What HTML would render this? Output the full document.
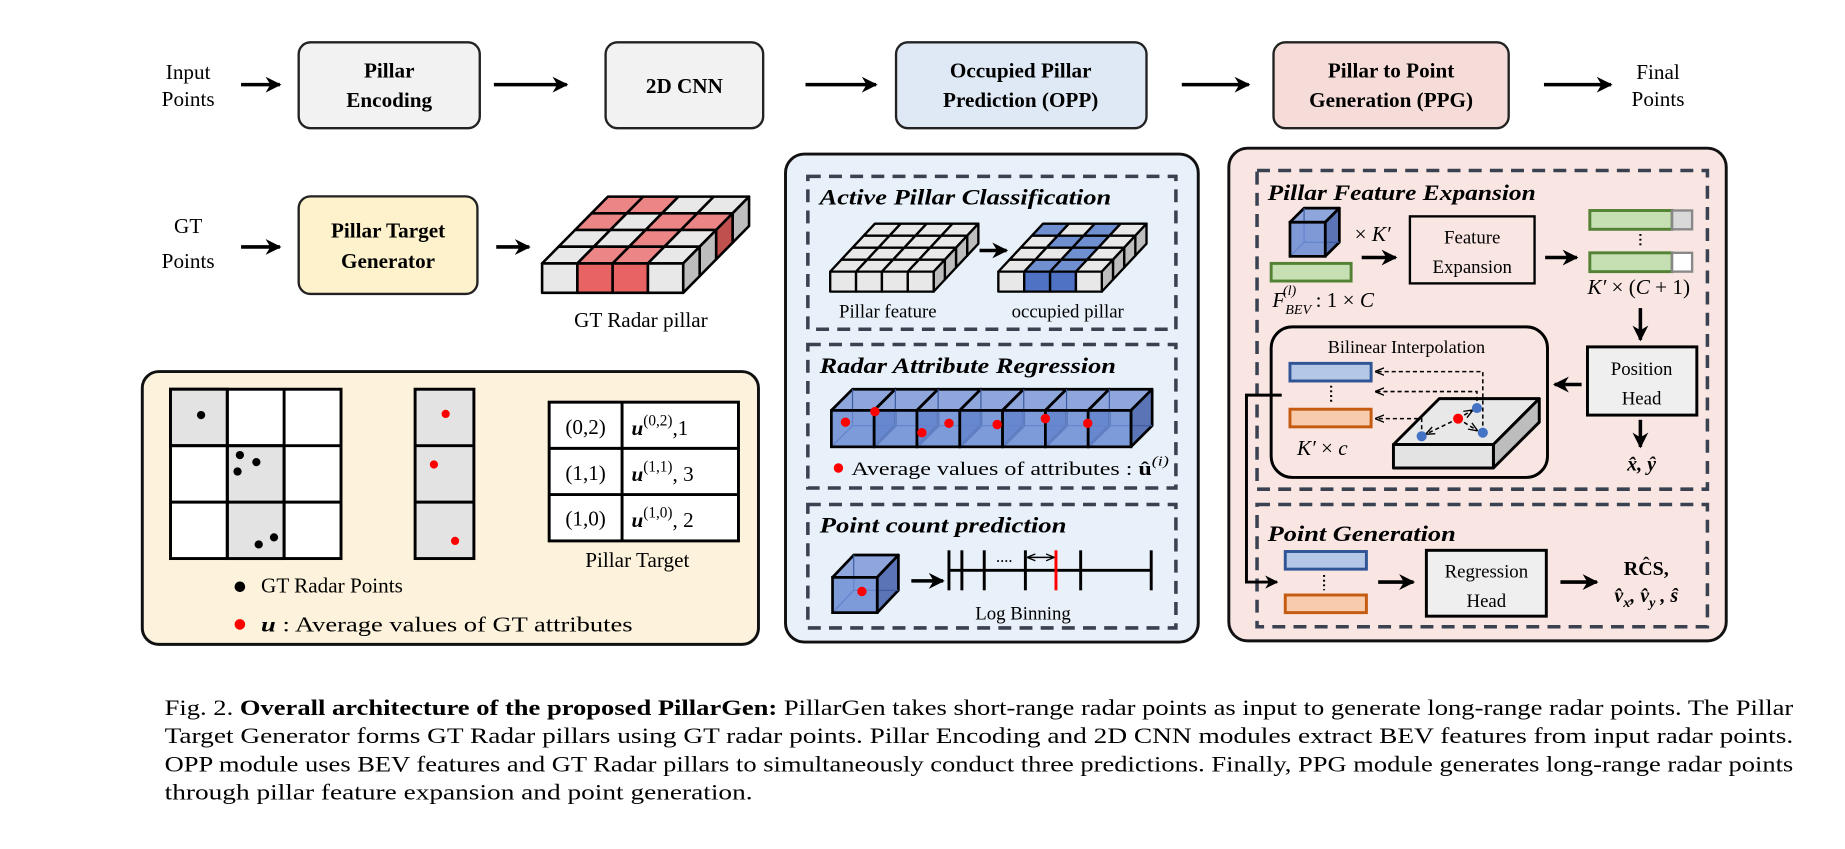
<!DOCTYPE html>
<html><head><meta charset="utf-8"><style>
html,body{margin:0;padding:0;background:#fff;}
svg{display:block;}
text{font-family:"Liberation Serif","Times New Roman",Times,serif;fill:#000;}
.b{font-weight:bold;}
.bi{font-weight:bold;font-style:italic;}
.i{font-style:italic;}
</style></head><body>
<svg id="s" width="1845" height="849" viewBox="0 0 1569 722" xmlns="http://www.w3.org/2000/svg">
<defs>
<marker id="ah" viewBox="0 0 10 10" refX="9" refY="5" markerWidth="4.5" markerHeight="4.5" orient="auto-start-reverse"><path d="M0,0 L10,5 L0,10 L3,5z" fill="#000"/></marker>
<marker id="as" viewBox="0 0 10 10" refX="9" refY="5" markerWidth="6" markerHeight="6" orient="auto-start-reverse"><path d="M0,1 L10,5 L0,9" fill="none" stroke="#000" stroke-width="1.5"/></marker>
</defs>
<g stroke="#000" stroke-width="3" fill="none" marker-end="url(#ah)">
<line x1="205" y1="72" x2="238" y2="72"/>
<line x1="420" y1="72" x2="482" y2="72"/>
<line x1="685" y1="72" x2="745" y2="72"/>
<line x1="1005" y1="72" x2="1062" y2="72"/>
<line x1="1313" y1="72" x2="1370" y2="72"/>
<line x1="205" y1="210" x2="238" y2="210"/>
<line x1="422" y1="210" x2="450" y2="210"/>
<line x1="308" y1="403" x2="340" y2="403"/>
<line x1="419" y1="403" x2="452" y2="403"/>
</g>
<g stroke="#222" stroke-width="2">
<rect x="254" y="36" width="154" height="73" rx="10" fill="#f2f2f2"/>
<rect x="515" y="36" width="134" height="73" rx="10" fill="#f2f2f2"/>
<rect x="762" y="36" width="213" height="73" rx="10" fill="#dfe9f5"/>
<rect x="1083" y="36" width="200" height="73" rx="10" fill="#f6dcd8"/>
<rect x="254" y="167" width="152" height="83" rx="10" fill="#fdf2cc"/>
</g>
<g font-size="18" text-anchor="middle">
<text x="160" y="67">Input</text><text x="160" y="90">Points</text>
<text x="331" y="66" class="b">Pillar</text><text x="331" y="91" class="b">Encoding</text>
<text x="582" y="79" class="b">2D CNN</text>
<text x="868" y="66" class="b">Occupied Pillar</text><text x="868" y="91" class="b">Prediction (OPP)</text>
<text x="1183" y="66" class="b">Pillar to Point</text><text x="1183" y="91" class="b">Generation (PPG)</text>
<text x="1410" y="67">Final</text><text x="1410" y="90">Points</text>
<text x="160" y="198">GT</text><text x="160" y="228">Points</text>
<text x="330" y="202" class="b">Pillar Target</text><text x="330" y="228" class="b">Generator</text>
<text x="545" y="278">GT Radar pillar</text>
</g>
<g id="gt"></g>
<rect x="121" y="316" width="524" height="232" rx="14" fill="#fdf3dc" stroke="#111" stroke-width="2.5"/>
<g stroke="#000" stroke-width="2.5">
<rect x="145" y="331" width="145" height="144" fill="#fff"/>
<rect x="145" y="331" width="48.3" height="48" fill="#e3e3e3"/>
<rect x="193.3" y="379" width="48.3" height="96" fill="#e3e3e3"/>
<line x1="193.3" y1="331" x2="193.3" y2="475"/><line x1="241.6" y1="331" x2="241.6" y2="475"/>
<line x1="145" y1="379" x2="290" y2="379"/><line x1="145" y1="427" x2="290" y2="427"/>
<rect x="353" y="331" width="50" height="144" fill="#e3e3e3"/>
<line x1="353" y1="379" x2="403" y2="379"/><line x1="353" y1="427" x2="403" y2="427"/>
<rect x="467" y="342" width="161" height="118" fill="#fff"/>
<line x1="529" y1="342" x2="529" y2="460"/>
<line x1="467" y1="381.3" x2="628" y2="381.3"/><line x1="467" y1="420.6" x2="628" y2="420.6"/>
</g>
<g fill="#000"><circle cx="171" cy="353" r="3.5"/><circle cx="204" cy="387" r="3.5"/><circle cx="218" cy="393" r="3.5"/><circle cx="202" cy="401" r="3.5"/><circle cx="233" cy="457" r="3.5"/><circle cx="220" cy="463" r="3.5"/><circle cx="204" cy="499" r="4.5"/></g>
<g fill="#f00"><circle cx="379" cy="352" r="3.5"/><circle cx="369" cy="395" r="3.5"/><circle cx="387" cy="460" r="3.5"/><circle cx="204" cy="531" r="4.5"/></g>
<g font-size="18">
<text x="498" y="369" text-anchor="middle">(0,2)</text><text x="498" y="408" text-anchor="middle">(1,1)</text><text x="498" y="447" text-anchor="middle">(1,0)</text>
<text x="537" y="370"><tspan class="bi">u</tspan><tspan font-size="13" dy="-8">(0,2)</tspan><tspan dy="8">,1</tspan></text>
<text x="537" y="409"><tspan class="bi">u</tspan><tspan font-size="13" dy="-8">(1,1)</tspan><tspan dy="8">, 3</tspan></text>
<text x="537" y="448"><tspan class="bi">u</tspan><tspan font-size="13" dy="-8">(1,0)</tspan><tspan dy="8">, 2</tspan></text>
<text x="542" y="482" text-anchor="middle">Pillar Target</text>
<text x="222" y="504">GT Radar Points</text>
<text x="222" y="537" textLength="316" lengthAdjust="spacingAndGlyphs"><tspan class="bi">u</tspan> : Average values of GT attributes</text>
</g>
<rect x="668" y="131" width="351" height="415" rx="16" fill="#e8f0f9" stroke="#111" stroke-width="2.5"/>
<g fill="none" stroke="#3a4252" stroke-width="3" stroke-dasharray="11,7">
<rect x="687" y="150" width="313" height="130"/>
<rect x="687" y="293" width="313" height="122"/>
<rect x="687" y="429" width="313" height="105"/>
</g>
<g font-size="19">
<text x="697" y="174" class="bi" textLength="248" lengthAdjust="spacingAndGlyphs">Active Pillar Classification</text>
<text x="697" y="317" class="bi" textLength="252" lengthAdjust="spacingAndGlyphs">Radar Attribute Regression</text>
<text x="697" y="453" class="bi" textLength="210" lengthAdjust="spacingAndGlyphs">Point count prediction</text>
</g>
<g id="apc"></g>
<line x1="833" y1="213" x2="856" y2="213" stroke="#000" stroke-width="3" marker-end="url(#ah)"/>
<g font-size="16" text-anchor="middle"><text x="755" y="270">Pillar feature</text><text x="908" y="270">occupied pillar</text>
<text x="870" y="527">Log Binning</text></g>
<g id="rar"></g>
<circle cx="713" cy="398" r="4" fill="#f00"/>
<text x="724" y="404" font-size="16" textLength="270" lengthAdjust="spacingAndGlyphs">Average values of attributes : <tspan class="b">û</tspan><tspan font-size="12" dy="-8" class="i">(i)</tspan></text>
<g id="pcp"></g>
<line x1="775" y1="494" x2="802" y2="494" stroke="#000" stroke-width="3" marker-end="url(#ah)"/>
<g stroke="#000" stroke-width="2.5">
<line x1="807" y1="485" x2="979" y2="485"/>
<line x1="807" y1="468" x2="807" y2="502"/><line x1="818" y1="468" x2="818" y2="502"/><line x1="837" y1="468" x2="837" y2="502"/><line x1="872" y1="468" x2="872" y2="502"/><line x1="919" y1="468" x2="919" y2="502"/><line x1="979" y1="468" x2="979" y2="502"/>
<line x1="898" y1="468" x2="898" y2="502" stroke="#f00"/>
</g>
<line x1="874" y1="474" x2="896" y2="474" stroke="#000" stroke-width="1.2" marker-start="url(#as)" marker-end="url(#as)"/>
<text x="847" y="478" font-size="14">....</text>
<rect x="1045" y="126" width="423" height="419" rx="16" fill="#f9e6e3" stroke="#111" stroke-width="2.5"/>
<g fill="none" stroke="#3a4252" stroke-width="3" stroke-dasharray="11,7">
<rect x="1069" y="145" width="383" height="271"/>
<rect x="1069" y="429" width="383" height="104"/>
</g>
<text x="1078" y="170" font-size="19" class="bi" textLength="228" lengthAdjust="spacingAndGlyphs">Pillar Feature Expansion</text>
<text x="1078" y="460" font-size="19" class="bi" textLength="160" lengthAdjust="spacingAndGlyphs">Point Generation</text>
<g id="pfe"></g>
<rect x="1081" y="224" width="68" height="15" fill="#c6e0b4" stroke="#548235" stroke-width="2.5"/>
<text x="1152" y="205" font-size="18"><tspan>× </tspan><tspan class="i">K′</tspan></text>
<line x1="1158" y1="219" x2="1187" y2="219" stroke="#000" stroke-width="3" marker-end="url(#ah)"/>
<text x="1082" y="261" font-size="18"><tspan class="i">F</tspan><tspan font-size="12" dy="6" class="i">BEV</tspan><tspan font-size="12" dx="-24" dy="-16" class="i">(l)</tspan><tspan dx="12" dy="10"> : 1 × </tspan><tspan class="i">C</tspan></text>
<rect x="1199" y="184" width="106" height="57" fill="#f9e6e3" stroke="#000" stroke-width="2"/>
<g font-size="16" text-anchor="middle"><text x="1252" y="207">Feature</text><text x="1252" y="232">Expansion</text></g>
<line x1="1314" y1="219" x2="1341" y2="219" stroke="#000" stroke-width="3" marker-end="url(#ah)"/>
<rect x="1352" y="179" width="70" height="16" fill="#c6e0b4" stroke="#548235" stroke-width="2.5"/>
<rect x="1422" y="179" width="17" height="16" fill="#d9d9d9" stroke="#888" stroke-width="2"/>
<rect x="1352" y="215" width="70" height="16" fill="#c6e0b4" stroke="#548235" stroke-width="2.5"/>
<rect x="1422" y="215" width="17" height="16" fill="#fff" stroke="#888" stroke-width="2"/>
<line x1="1395" y1="199" x2="1395" y2="211" stroke="#000" stroke-width="1.8" stroke-dasharray="1.6,2.4"/>
<text x="1350" y="250" font-size="18" class="i">K′ <tspan font-style="normal">× (</tspan>C<tspan font-style="normal"> + 1)</tspan></text>
<line x1="1395" y1="262" x2="1395" y2="289" stroke="#000" stroke-width="3" marker-end="url(#ah)"/>
<rect x="1350" y="295" width="93" height="58" fill="#efefef" stroke="#000" stroke-width="2.5"/>
<g font-size="16" text-anchor="middle"><text x="1396" y="319">Position</text><text x="1396" y="344">Head</text></g>
<line x1="1395" y1="357" x2="1395" y2="380" stroke="#000" stroke-width="3" marker-end="url(#ah)"/>
<text x="1396" y="400" font-size="17" text-anchor="middle" class="bi">x̂, ŷ</text>
<line x1="1345" y1="327" x2="1322" y2="327" stroke="#000" stroke-width="3" marker-end="url(#ah)"/>
<rect x="1081" y="278" width="235" height="128" rx="18" fill="#f9e6e3" stroke="#000" stroke-width="2.5"/>
<text x="1196" y="300" font-size="15.5" text-anchor="middle">Bilinear Interpolation</text>
<rect x="1097" y="309" width="69" height="15" fill="#b4c7e7" stroke="#2f5597" stroke-width="2.5"/>
<rect x="1097" y="348" width="69" height="15" fill="#f8cbad" stroke="#c55a11" stroke-width="2.5"/>
<line x1="1132" y1="328" x2="1132" y2="344" stroke="#000" stroke-width="1.8" stroke-dasharray="1.6,2.4"/>
<text x="1103" y="387" font-size="18" class="i">K′ <tspan font-style="normal">× </tspan>c</text>
<g id="slab"></g>
<g stroke="#000" stroke-width="1.3" stroke-dasharray="3.5,2.5" fill="none">
<polyline points="1261,368 1261,316 1170,316" marker-end="url(#as)"/>
<polyline points="1256,347 1256,333 1170,333" marker-end="url(#as)"/>
<polyline points="1209,371 1209,356 1170,356" marker-end="url(#as)"/>
<line x1="1240" y1="356" x2="1213" y2="369" marker-end="url(#as)"/>
<line x1="1240" y1="356" x2="1252" y2="349" marker-end="url(#as)"/>
<line x1="1240" y1="356" x2="1256" y2="366" marker-end="url(#as)"/>
</g>
<g fill="#4472c4"><circle cx="1256" cy="347" r="4.3"/><circle cx="1261" cy="368" r="4.3"/><circle cx="1209" cy="371" r="4.3"/></g>
<circle cx="1240" cy="356" r="4.3" fill="#f00"/>
<polyline points="1090,336 1060,336 1060,495 1086,495" fill="none" stroke="#000" stroke-width="2.5" marker-end="url(#ah)"/>
<rect x="1093" y="469" width="69" height="15" fill="#b4c7e7" stroke="#2f5597" stroke-width="2.5"/>
<rect x="1093" y="506" width="69" height="15" fill="#f8cbad" stroke="#c55a11" stroke-width="2.5"/>
<line x1="1126" y1="489" x2="1126" y2="502" stroke="#000" stroke-width="1.8" stroke-dasharray="1.6,2.4"/>
<line x1="1172" y1="495" x2="1202" y2="495" stroke="#000" stroke-width="3" marker-end="url(#ah)"/>
<rect x="1213" y="468" width="102" height="56" fill="#efefef" stroke="#000" stroke-width="2.5"/>
<g font-size="16" text-anchor="middle"><text x="1264" y="491">Regression</text><text x="1264" y="516">Head</text></g>
<line x1="1327" y1="495" x2="1358" y2="495" stroke="#000" stroke-width="3" marker-end="url(#ah)"/>
<text x="1400" y="489" font-size="17" text-anchor="middle" class="b">RĈS,</text>
<text x="1400" y="512" font-size="17" text-anchor="middle" class="bi">v̂<tspan font-size="12" dy="4">x</tspan><tspan dy="-4">, v̂</tspan><tspan font-size="12" dy="4">y</tspan><tspan dy="-4"> , ŝ</tspan></text>
<g font-size="18.5">
<text x="140" y="608" textLength="1385" lengthAdjust="spacingAndGlyphs">Fig. 2.   <tspan class="b">Overall architecture of the proposed PillarGen:</tspan> PillarGen takes short-range radar points as input to generate long-range radar points. The Pillar</text>
<text x="140" y="632" textLength="1385" lengthAdjust="spacingAndGlyphs">Target Generator forms GT Radar pillars using GT radar points. Pillar Encoding and 2D CNN modules extract BEV features from input radar points.</text>
<text x="140" y="656" textLength="1385" lengthAdjust="spacingAndGlyphs">OPP module uses BEV features and GT Radar pillars to simultaneously conduct three predictions. Finally, PPG module generates long-range radar points</text>
<text x="140" y="680" textLength="500" lengthAdjust="spacingAndGlyphs">through pillar feature expansion and point generation.</text>
</g>
</svg>
<script>
var NS="http://www.w3.org/2000/svg";
function el(p,t,a){var e=document.createElementNS(NS,t);for(var k in a)e.setAttribute(k,a[k]);p.appendChild(e);return e;}
function poly(p,pts,fill,sw,stroke){return el(p,"polygon",{points:pts.map(function(q){return q[0].toFixed(1)+","+q[1].toFixed(1)}).join(" "),fill:fill,stroke:stroke||"#000","stroke-width":sw||2,"stroke-linejoin":"round"});}
function grid(id,x0,y0,w,h,dx,dy,n,m,top,front,side,sw){
 var g=document.getElementById(id);
 for(var r=m-1;r>=0;r--){for(var c=0;c<n;c++){var X=x0+c*w+r*dx,Y=y0-r*dy;
  poly(g,[[X,Y],[X+w,Y],[X+w+dx,Y-dy],[X+dx,Y-dy]],top[m-1-r][c],sw);}}
 for(var r=m-1;r>=0;r--){var X=x0+n*w+r*dx,Y=y0-r*dy;
  poly(g,[[X,Y],[X+dx,Y-dy],[X+dx,Y-dy+h],[X,Y+h]],side[m-1-r],sw);}
 for(var c=0;c<n;c++){poly(g,[[x0+c*w,y0],[x0+(c+1)*w,y0],[x0+(c+1)*w,y0+h],[x0+c*w,y0+h]],front[c],sw);}
}
var G="#e8e8e8",R="#ec8585",RF="#e86464",S="#bdbdbd",RS="#c0504d",B="#6f8fd0",BF="#4f72c4";
grid("gt",461,224,30,25,14,14.2,4,4,[[R,R,G,G],[R,G,R,R],[G,G,R,G],[G,R,R,G]],[G,RF,RF,G],[S,RS,S,S],2.2);
grid("apc",706,231,22,17,9.5,10.2,4,4,[[G,G,G,G],[G,G,G,G],[G,G,G,G],[G,G,G,G]],[G,G,G,G],[S,S,S,S],2);
grid("apc",849,231,22,17,9.5,10.2,4,4,[[B,G,B,G],[G,B,B,G],[G,G,B,G],[G,B,B,G]],[G,BF,BF,G],[S,S,S,S],2);
function cube(g,x,y,w,h,dx,dy,sw){
 poly(g,[[x,y],[x+w,y],[x+w+dx,y-dy],[x+dx,y-dy]],"#8ea6dc",sw);
 poly(g,[[x+w,y],[x+w+dx,y-dy],[x+w+dx,y-dy+h],[x+w,y+h]],"#5b74b5",sw);
 el(g,"line",{x1:x+dx,y1:y-dy,x2:x+dx,y2:y-dy+h,stroke:"#3a5aa0","stroke-width":1});
 el(g,"line",{x1:x+dx,y1:y-dy+h,x2:x,y2:y+h,stroke:"#3a5aa0","stroke-width":1});
 el(g,"line",{x1:x+dx,y1:y-dy+h,x2:x+w+dx,y2:y-dy+h,stroke:"#3a5aa0","stroke-width":1});
 el(g,"rect",{x:x,y:y,width:w,height:h,fill:"#6a8bd4","fill-opacity":"0.85",stroke:"#000","stroke-width":sw});
}
var rar=document.getElementById("rar"),cw=36.4;
for(var i=0;i<7;i++){cube(rar,707+i*cw,349,cw,31,18,18,2.3);}
[[719,359],[744,350],[784,368],[807,360],[848,361],[889,356],[925,360]].forEach(function(p){el(rar,"circle",{cx:p[0],cy:p[1],r:4,fill:"#f00"});});
var pcp=document.getElementById("pcp");cube(pcp,708,491,38,30,18,19,2.3);el(pcp,"circle",{cx:733,cy:503,r:4,fill:"#f00"});
var pfe=document.getElementById("pfe");cube(pfe,1097,189,30,29,12,12,2.3);
var sl=document.getElementById("slab");
poly(sl,[[1185,378],[1270,378],[1309,339],[1224,339]],"#e8e8e8",2.5);
poly(sl,[[1270,378],[1309,339],[1309,359],[1270,398]],"#bdbdbd",2.5);
poly(sl,[[1185,378],[1270,378],[1270,398],[1185,398]],"#e3e3e3",2.5);
</script>
</body></html>
